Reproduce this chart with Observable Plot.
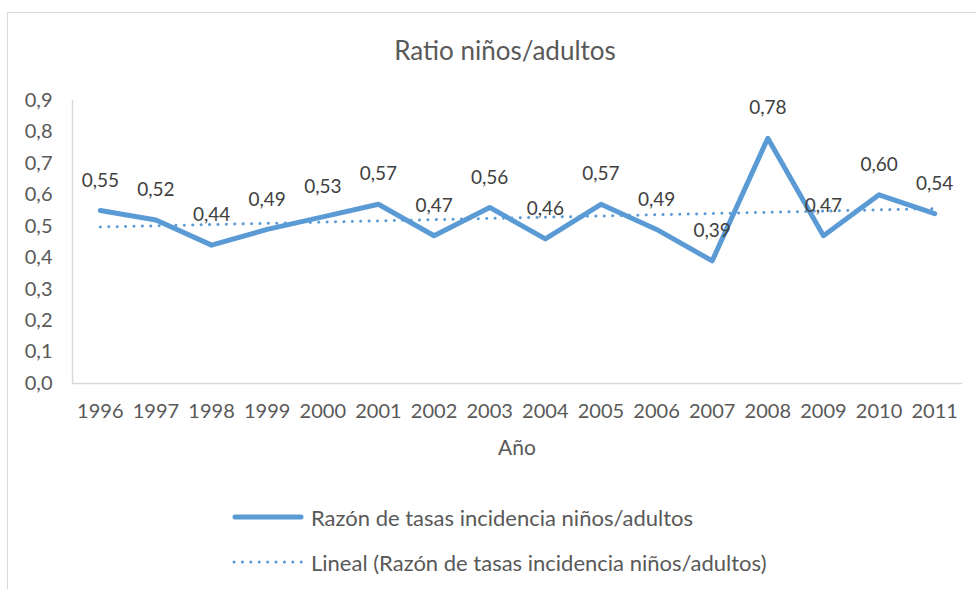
<!DOCTYPE html>
<html>
<head>
<meta charset="utf-8">
<script src="https://cdn.jsdelivr.net/npm/d3@7"></script>
<script src="https://cdn.jsdelivr.net/npm/@observablehq/plot@0.6"></script>
<style>
  html, body { margin: 0; padding: 0; background: #fff; }
  #wrap { position: relative; width: 976px; height: 589px; overflow: hidden; font-family: Lato, "Open Sans", sans-serif; color: #595959; }
  #frame { position: absolute; left: 7px; top: 12px; width: 1000px; height: 600px; border-left: 1.5px solid #d9d9d9; border-top: 1.5px solid #d9d9d9; }
  #title { position: absolute; left: 0; width: 1010px; top: 35px; text-align: center; font-size: 26px; line-height: 30px; }
  #chart { position: absolute; left: 0; top: 0; }
  #xlabel { position: absolute; left: 417px; width: 200px; top: 434px; text-align: center; font-size: 21px; line-height: 26px; }
  .leg { position: absolute; left: 232px; height: 28px; display: flex; align-items: center; font-size: 22px; }
  .leg svg { margin-right: 7px; }
</style>
</head>
<body>
<div id="wrap">
  <div id="frame"></div>
  <div id="title">Ratio niños/adultos</div>
  <div id="chart"></div>
  <div id="xlabel">Año</div>
  <div class="leg" style="top:503px">
    <svg width="72" height="10"><line x1="3" y1="5" x2="69" y2="5" stroke="#5B9BD5" stroke-width="5" stroke-linecap="round"/></svg>
    <span>Razón de tasas incidencia niños/adultos</span>
  </div>
  <div class="leg" style="top:548px">
    <svg width="72" height="10"><line x1="2" y1="5" x2="70" y2="5" stroke="#5B9BD5" stroke-width="3" stroke-linecap="round" stroke-dasharray="0.1 8.3"/></svg>
    <span>Lineal (Razón de tasas incidencia niños/adultos)</span>
  </div>
</div>
<script>
const years = [1996,1997,1998,1999,2000,2001,2002,2003,2004,2005,2006,2007,2008,2009,2010,2011];
const ratios = [0.55,0.52,0.44,0.49,0.53,0.57,0.47,0.56,0.46,0.57,0.49,0.39,0.78,0.47,0.60,0.54];
const yTicks = [0,0.1,0.2,0.3,0.4,0.5,0.6,0.7,0.8,0.9];

const data = years.map((year, i) => ({year, value: ratios[i]}));
const comma = (v, d) => v.toFixed(d).replace(".", ",");
const blue = "#5B9BD5";

const chart = Plot.plot({
  width: 976,
  height: 470,
  marginLeft: 72,
  marginRight: 14,
  marginTop: 100,
  marginBottom: 87,
  style: {fontFamily: "Lato, 'Open Sans', sans-serif", background: "transparent", color: "#595959"},
  x: {type: "linear", domain: [1995.5, 2011.5]},
  y: {domain: [0, 0.9]},
  marks: [
    Plot.ruleY([0], {stroke: "#d9d9d9", strokeWidth: 1.5}),
    Plot.ruleX([1995.5], {y1: 0, y2: 0.9, stroke: "#d9d9d9", strokeWidth: 1.5}),
    Plot.axisY({ticks: yTicks, tickSize: 0, tickPadding: 20, tickFormat: d => comma(d, 1), fontSize: 20, fill: "#595959", label: null}),
    Plot.axisX({ticks: years, tickSize: 0, tickPadding: 20, tickFormat: d => String(d), fontSize: 20, fill: "#595959", label: null}),
    Plot.line(data, {x: "year", y: "value", stroke: blue, strokeWidth: 5, strokeLinejoin: "round", strokeLinecap: "round"}),
    Plot.linearRegressionY(data, {x: "year", y: "value", ci: 0, stroke: blue, strokeWidth: 3, strokeLinecap: "round", strokeDasharray: "0.1 8.3"}),
    Plot.text(data, {x: "year", y: "value", text: d => comma(d.value, 2), dy: -30, fontSize: 19, fill: "#404040"})
  ]
});
document.getElementById("chart").appendChild(chart);
</script>
</body>
</html>
